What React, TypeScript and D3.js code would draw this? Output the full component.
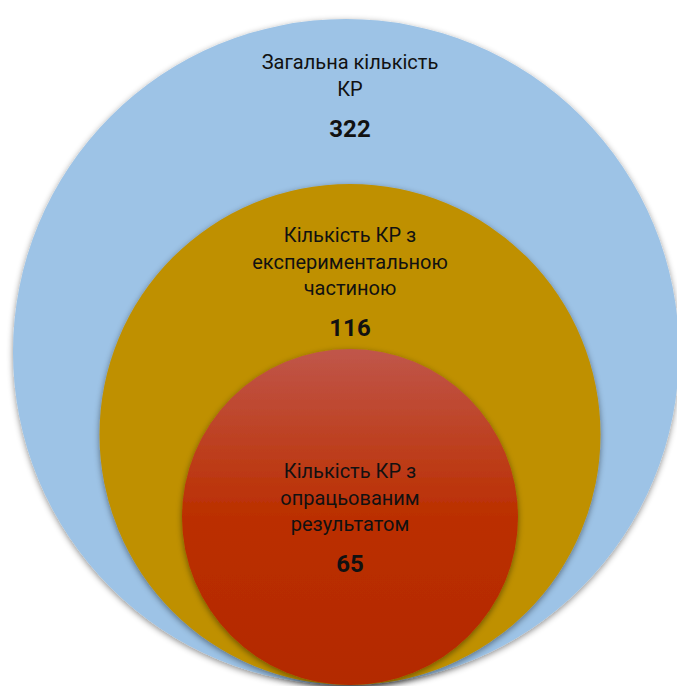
import React from 'react';
import * as d3 from 'd3';

// nested circles, outer -> inner
const categories = ['total', 'experimental', 'processed'];
const labels = [
  ['Загальна кількість', 'КР'],
  ['Кількість КР з', 'експериментальною', 'частиною'],
  ['Кількість КР з', 'опрацьованим', 'результатом'],
];
const values = [322, 116, 65];

const width = 677;
const height = 686;
const cx = 348;
const bottom = 685;
// distance from circle top to first text line
const labelOffsets = [43, 51, 122];
const lineH = 26.5;

const App = () => {
  // radii are evenly stepped, like the SmartArt original
  const radius = d3.scalePoint<string>().domain(categories).range([333, 168]);
  const fills = ['#9DC3E6', '#BF9000', 'url(#redGrad)'];

  return (
    <svg width={width} height={height} style={{ position: 'absolute', left: 0, top: 0, display: 'block' }}
      fontFamily="Roboto, 'Noto Sans', sans-serif">
      <defs>
        <filter id="shadow" x="-10%" y="-10%" width="120%" height="120%">
          <feDropShadow dx="0" dy="2" stdDeviation="3" floodColor="#000" floodOpacity="0.45" />
        </filter>
        <linearGradient id="redGrad" x1="0" y1="0" x2="0" y2="1">
          <stop offset="0" stopColor="#C0564A" />
          <stop offset="0.5" stopColor="#BB2F00" />
          <stop offset="1" stopColor="#B32900" />
        </linearGradient>
      </defs>
      {categories.map((c, i) => {
        const r = radius(c)!;
        return (
          <circle key={c} cx={cx + (i === 0 ? -2 : 2)} cy={bottom - r} r={r}
            fill={fills[i]} filter="url(#shadow)" />
        );
      })}
      {categories.map((c, i) => {
        const r = radius(c)!;
        const top = bottom - 2 * r;
        const y0 = top + labelOffsets[i];
        const lines = labels[i];
        return (
          <g key={c} textAnchor="middle" fill="#111">
            {lines.map((t, j) => (
              <text key={j} x={350} y={y0 + j * lineH} dominantBaseline="central" fontSize={20}>{t}</text>
            ))}
            <text x={350} y={y0 + (lines.length - 1) * lineH + 40} dominantBaseline="central"
              fontSize={24} fontWeight="bold">{values[i]}</text>
          </g>
        );
      })}
    </svg>
  );
};

export default App;
